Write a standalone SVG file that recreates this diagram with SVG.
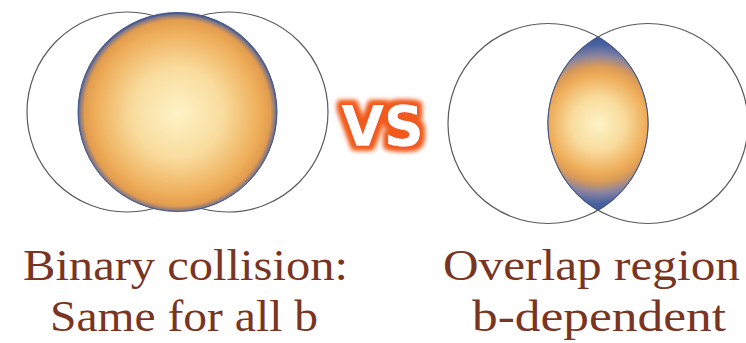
<svg xmlns="http://www.w3.org/2000/svg" width="746" height="343" viewBox="0 0 746 343">
  <defs>
    <radialGradient id="sphereGrad" gradientUnits="userSpaceOnUse" cx="177.5" cy="113" r="100">
      <stop offset="0" stop-color="#FDF3C6"/>
      <stop offset="0.45" stop-color="#F9DC9E"/>
      <stop offset="0.82" stop-color="#EEAE5A"/>
      <stop offset="0.93" stop-color="#E39C4E"/>
      <stop offset="0.975" stop-color="#8A7A80"/>
      <stop offset="1" stop-color="#3E5590"/>
    </radialGradient>
    <radialGradient id="lensGrad" gradientUnits="userSpaceOnUse" cx="598" cy="124" r="88">
      <stop offset="0" stop-color="#FDF3C6"/>
      <stop offset="0.3" stop-color="#F9DC9E"/>
      <stop offset="0.56" stop-color="#EEAC58"/>
      <stop offset="0.66" stop-color="#D99A58"/>
      <stop offset="0.78" stop-color="#8A84A0"/>
      <stop offset="0.9" stop-color="#4A62A0"/>
      <stop offset="1" stop-color="#3A5495"/>
    </radialGradient>
    <filter id="glow" x="-30%" y="-40%" width="160%" height="180%">
      <feMorphology in="SourceAlpha" operator="dilate" radius="3.5" result="d"/>
      <feGaussianBlur in="d" stdDeviation="2.6" result="b"/>
      <feFlood flood-color="#F25A1E"/>
      <feComposite in2="b" operator="in" result="g"/>
      <feMerge>
        <feMergeNode in="g"/>
        <feMergeNode in="g"/>
        <feMergeNode in="SourceGraphic"/>
      </feMerge>
    </filter>
  </defs>
  <style>
    .outline { fill: none; stroke: #5a5a5a; stroke-width: 1.2; }
    .label { font-family: "Liberation Serif", "Times New Roman", serif; font-size: 44px; fill: #7A3522; }
    .vs { font-family: "DejaVu Sans", Verdana, sans-serif; font-weight: bold; font-size: 55px; fill: #ffffff; }
  </style>

  <g id="binary-collision">
    <circle class="outline" cx="127" cy="112" r="100"/>
    <circle class="outline" cx="228" cy="112" r="100"/>
    <circle cx="177.5" cy="112" r="99.5" fill="url(#sphereGrad)" stroke="#3E5590" stroke-width="1"/>
  </g>

  <g id="vs">
    <text class="vs" x="382.5" y="145" text-anchor="middle" filter="url(#glow)">VS</text>
  </g>

  <g id="overlap-region">
    <circle class="outline" cx="548" cy="123.5" r="100"/>
    <circle class="outline" cx="648" cy="123.5" r="100"/>
    <path d="M598,36.9 A100,100 0 0 1 598,210.1 A100,100 0 0 1 598,36.9 Z" fill="url(#lensGrad)" stroke="#3E5590" stroke-width="1"/>
  </g>

  <g id="labels">
    <text class="label" x="23" y="280" textLength="325" lengthAdjust="spacingAndGlyphs">Binary collision:</text>
    <text class="label" x="50" y="331" textLength="268" lengthAdjust="spacingAndGlyphs">Same for all b</text>
    <text class="label" x="443" y="280" textLength="297" lengthAdjust="spacingAndGlyphs">Overlap region</text>
    <text class="label" x="472" y="331" textLength="254" lengthAdjust="spacingAndGlyphs">b-dependent</text>
  </g>
</svg>
